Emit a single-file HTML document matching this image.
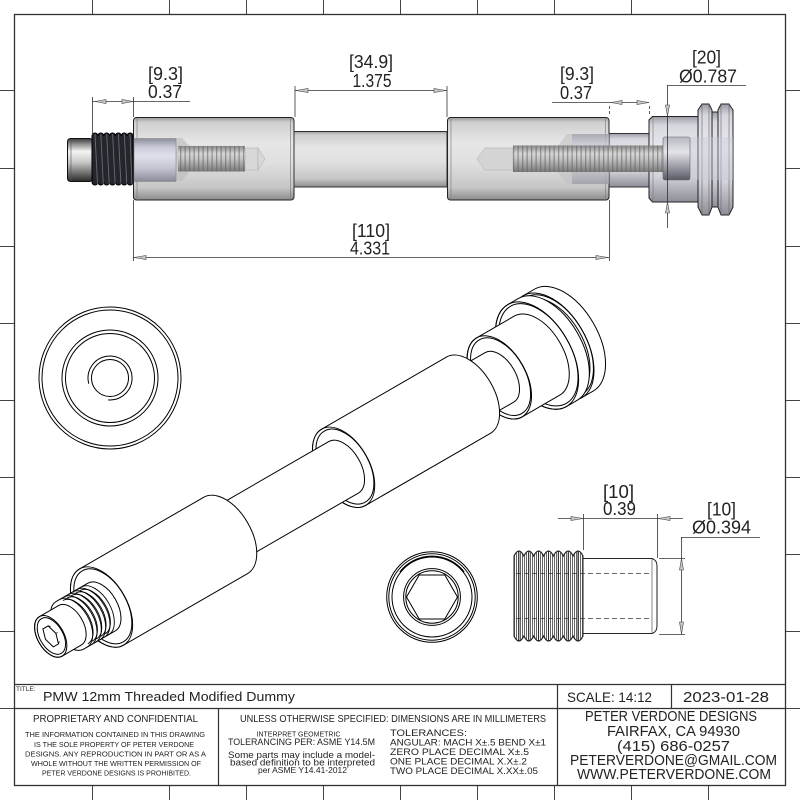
<!DOCTYPE html>
<html><head><meta charset="utf-8"><style>
html,body{margin:0;padding:0;background:#fff;}
svg{display:block;}
text{font-family:"Liberation Sans",sans-serif;fill:#222;}
</style></head><body>
<svg width="800" height="800" viewBox="0 0 800 800" xmlns="http://www.w3.org/2000/svg">
<defs>
<linearGradient id="gBody" x1="0" y1="0" x2="0" y2="1">
<stop offset="0" stop-color="#9a9a9a"/><stop offset="0.06" stop-color="#cfcfcf"/><stop offset="0.3" stop-color="#e6e6e6"/><stop offset="0.55" stop-color="#e0e0e0"/><stop offset="0.85" stop-color="#c6c6c6"/><stop offset="1" stop-color="#8c8c8c"/>
</linearGradient>
<linearGradient id="gHead" x1="0" y1="0" x2="0" y2="1">
<stop offset="0" stop-color="#9b9ca6"/><stop offset="0.1" stop-color="#d6d6de"/><stop offset="0.4" stop-color="#eaeaf0"/><stop offset="0.7" stop-color="#d2d2da"/><stop offset="1" stop-color="#8e8e98"/>
</linearGradient>
<linearGradient id="gNub" x1="0" y1="0" x2="0" y2="1">
<stop offset="0" stop-color="#3a3a3a"/><stop offset="0.12" stop-color="#8a8a8a"/><stop offset="0.3" stop-color="#f4f4f4"/><stop offset="0.55" stop-color="#c8c8c8"/><stop offset="0.8" stop-color="#707070"/><stop offset="1" stop-color="#2a2a2a"/>
</linearGradient>
<linearGradient id="gBore" x1="0" y1="0" x2="0" y2="1">
<stop offset="0" stop-color="#8d8e9c"/><stop offset="0.2" stop-color="#c9cad8"/><stop offset="0.4" stop-color="#e0e0ec"/><stop offset="0.7" stop-color="#c2c3d0"/><stop offset="1" stop-color="#8a8b98"/>
</linearGradient>
<linearGradient id="gBolt" x1="0" y1="0" x2="0" y2="1">
<stop offset="0" stop-color="#8a8a8a"/><stop offset="0.3" stop-color="#d6d6d6"/><stop offset="0.5" stop-color="#c4c4c4"/><stop offset="1" stop-color="#7a7a7a"/>
</linearGradient>
<linearGradient id="gCap" x1="0" y1="0" x2="0" y2="1">
<stop offset="0" stop-color="#b8b8c2"/><stop offset="0.35" stop-color="#e4e4ea"/><stop offset="0.7" stop-color="#9a9aa4"/><stop offset="1" stop-color="#5a5a64"/>
</linearGradient>
<pattern id="pStripe" width="4.5" height="10" patternUnits="userSpaceOnUse">
<rect x="0" y="0" width="1.3" height="10" fill="#5e5e5e" opacity="0.55"/>
</pattern>
<pattern id="pHatch" width="2" height="10" patternUnits="userSpaceOnUse">
<rect x="0" y="0" width="1" height="10" fill="#666"/>
</pattern>
</defs>

<!-- Border -->
<rect x="14.5" y="14.5" width="771" height="771" fill="none" stroke="#333" stroke-width="1.3"/>
<g stroke="#444" stroke-width="1">
<path d="M92.5 0V14M169.5 0V14M246.5 0V14M323.5 0V14M400.5 0V14M477.5 0V14M554.5 0V14M631.5 0V14M708.5 0V14"/>
<path d="M92.5 786V800M169.5 786V800M246.5 786V800M323.5 786V800M400.5 786V800M477.5 786V800M554.5 786V800M631.5 786V800M708.5 786V800"/>
<path d="M0 90.5H14M0 168.5H14M0 246.5H14M0 323.5H14M0 400.5H14M0 477.5H14M0 554.5H14M0 631.5H14M0 708.5H14"/>
<path d="M786 90.5H800M786 168.5H800M786 246.5H800M786 323.5H800M786 400.5H800M786 477.5H800M786 554.5H800M786 631.5H800M786 708.5H800"/>
</g>

<!-- ============ TOP VIEW ============ -->
<rect x="133.5" y="117.5" width="160.5" height="82.5" rx="3" fill="url(#gBody)" stroke="#222"/>
<path d="M137 118V200M290.5 118V200" stroke="#777" stroke-width="0.6"/>
<rect x="294" y="131.5" width="153" height="55.5" fill="url(#gBody)" stroke="#333"/>
<rect x="447.5" y="117.5" width="161.5" height="82.5" rx="3" fill="url(#gBody)" stroke="#222"/>
<path d="M451 118V200M605.5 118V200" stroke="#777" stroke-width="0.6"/>
<rect x="609" y="133.5" width="40" height="53.5" fill="url(#gHead)" stroke="#333"/>
<path d="M652.5 116.5H698V202H652.5L649 198V120Z" fill="url(#gHead)" stroke="#222"/>
<path d="M653 117V201" stroke="#777" stroke-width="0.6"/>
<rect x="712" y="112" width="6" height="95" fill="url(#gHead)" stroke="#222"/>
<path d="M698 110L702 104H709L712 110V207L709 215H702L698 207Z" fill="url(#gHead)" stroke="#222"/>
<path d="M718 110L721 104H729L733 110V207L729 215H721L718 207Z" fill="url(#gHead)" stroke="#222"/>
<path d="M702 104V215M709 104V215M721 104V215M729 104V215" stroke="#666" stroke-width="0.6"/>

<path d="M176 138H182L193 150V167L182 181H176Z" fill="#bdbdbd" opacity="0.65"/>
<rect x="134" y="138.5" width="42" height="43" fill="url(#gBore)" stroke="#888" stroke-width="0.6"/>
<rect x="245" y="148" width="13" height="22" fill="#d8d8d8" stroke="#aaa" stroke-width="0.5"/>
<path d="M258 148L265 159L258 170Z" fill="#d8d8d8" stroke="#aaa" stroke-width="0.5"/>
<rect x="178" y="146" width="67" height="25.5" fill="url(#gBolt)"/>
<rect x="178" y="146" width="67" height="25.5" fill="url(#pStripe)"/>

<path d="M477 159L485 148H513V170H485Z" fill="#d4d4d4" stroke="#aaa" stroke-width="0.5"/>
<path d="M553 152L567 134H609V184H567L553 166Z" fill="#c2c2c2" opacity="0.6"/>
<rect x="572" y="134" width="37" height="50" fill="url(#gBore)" opacity="0.55"/>
<rect x="690" y="137" width="43" height="43" fill="#c8c8d8" opacity="0.4"/>
<rect x="663" y="137" width="27" height="43" rx="2" fill="url(#gCap)" stroke="#666" stroke-width="0.6"/>
<rect x="513" y="145.5" width="150" height="26.5" fill="url(#gBolt)"/>
<rect x="513" y="145.5" width="150" height="26.5" fill="url(#pStripe)"/>

<rect x="67.5" y="138.5" width="25" height="43" rx="3" fill="url(#gNub)" stroke="#111"/>
<path d="M71 139V181" stroke="#555" stroke-width="0.6"/>
<path d="M92 136a2.93 3 0 0 1 5.86 0a2.93 3 0 0 1 5.86 0a2.93 3 0 0 1 5.86 0a2.93 3 0 0 1 5.86 0a2.93 3 0 0 1 5.86 0a2.93 3 0 0 1 5.86 0a2.93 3 0 0 1 5.86 0V182a2.93 3 0 0 1 -5.86 0a2.93 3 0 0 1 -5.86 0a2.93 3 0 0 1 -5.86 0a2.93 3 0 0 1 -5.86 0a2.93 3 0 0 1 -5.86 0a2.93 3 0 0 1 -5.86 0a2.93 3 0 0 1 -5.86 0Z" fill="#25252c" stroke="#000"/>
<path d="M95 134L97.5 184M100.8 134L103.3 184M106.7 134L109.2 184M112.6 134L115.1 184M118.4 134L120.9 184M124.3 134L126.8 184M130 134L132 184" stroke="#6a6a78" stroke-width="0.9"/>

<g stroke="#333" stroke-width="0.8" fill="none">
<path d="M92.5 97V135M133.5 97V117M92 101.5H190"/>
<path d="M295 86V117M447 86V117M295 90.5H447"/>
<path d="M133.5 200V261M609.5 200V261M133 257.5H609"/>
<path d="M552 102.5H649"/>
<path d="M609.5 106V114M649.5 106V114" stroke-dasharray="3,2"/>
<path d="M667 85.5H746M667.5 85V228"/>
</g>
<g fill="#c8c8c8" stroke="#444" stroke-width="0.6">
<path d="M95 101.5L106 99.5V103.5Z"/><path d="M133 101.5L122 99.5V103.5Z"/>
<path d="M296 90.5L308 88.5V92.5Z"/><path d="M446 90.5L434 88.5V92.5Z"/>
<path d="M134 257.5L146 255.5V259.5Z"/><path d="M608 257.5L596 255.5V259.5Z"/>
<path d="M611 102.5L622 100.5V104.5Z"/><path d="M649 102.5L637 100.5V104.5Z"/>
<path d="M667.5 116L665.5 105H669.5Z"/><path d="M667.5 202L665.5 213H669.5Z"/>
</g>
<g font-size="18">
<text x="165.5" y="80" text-anchor="middle" textLength="35" lengthAdjust="spacingAndGlyphs">[9.3]</text>
<text x="165" y="98" text-anchor="middle" textLength="34" lengthAdjust="spacingAndGlyphs">0.37</text>
<text x="371" y="68" text-anchor="middle" textLength="44" lengthAdjust="spacingAndGlyphs">[34.9]</text>
<text x="372" y="87" text-anchor="middle" textLength="39" lengthAdjust="spacingAndGlyphs">1.375</text>
<text x="371" y="237" text-anchor="middle" textLength="38" lengthAdjust="spacingAndGlyphs">[110]</text>
<text x="370" y="254.5" text-anchor="middle" textLength="40" lengthAdjust="spacingAndGlyphs">4.331</text>
<text x="577" y="80" text-anchor="middle" textLength="34" lengthAdjust="spacingAndGlyphs">[9.3]</text>
<text x="576" y="99" text-anchor="middle" textLength="32" lengthAdjust="spacingAndGlyphs">0.37</text>
<text x="706.5" y="63.5" text-anchor="middle" textLength="29" lengthAdjust="spacingAndGlyphs">[20]</text>
<text x="708" y="82.5" text-anchor="middle" textLength="58" lengthAdjust="spacingAndGlyphs">Ø0.787</text>
</g>

<!-- ============ LEFT END VIEW ============ -->
<g fill="none" stroke="#000" stroke-width="1">
<circle cx="110" cy="378" r="71"/>
<circle cx="110" cy="378" r="68"/>
<circle cx="110" cy="378" r="48"/>
<circle cx="110" cy="378" r="44.5"/>
<circle cx="110" cy="378" r="18.5"/>
<path d="M88.8 383.7A22 22 0 1 1 108.1 399.9"/>
</g>

<!-- ============ ISO VIEW ============ -->
<g transform="translate(50.7,636.4) rotate(-30)" fill="#fff" stroke="#000" stroke-width="1">
<path d="M579.4 -58.8L592.7 -58.8A33.9 58.8 0 0 1 592.7 58.8L579.4 58.8A33.9 58.8 0 0 1 579.4 -58.8Z"/>
<ellipse cx="579.4" cy="0" rx="33.9" ry="58.8" fill="none"/>
<ellipse cx="581" cy="0" rx="32.3" ry="56" fill="none"/>
<path d="M574 -53L579.4 -53A30.6 53 0 0 1 579.4 53L574 53A30.6 53 0 0 1 574 -53Z"/>
<ellipse cx="574" cy="0" rx="30.6" ry="53" fill="none"/>
<path d="M561.6 -58.8L574 -58.8A33.9 58.8 0 0 1 574 58.8L561.6 58.8A33.9 58.8 0 0 1 561.6 -58.8Z"/>
<ellipse cx="561.6" cy="0" rx="33.9" ry="58.8" fill="none"/>
<ellipse cx="563.2" cy="0" rx="32.3" ry="56" fill="none"/>
<path d="M518 -45.6L561.6 -45.6A26.3 45.6 0 0 1 561.6 45.6L518 45.6A26.3 45.6 0 0 1 518 -45.6Z"/>
<ellipse cx="518" cy="0" rx="26.3" ry="45.6" fill="none"/>
<ellipse cx="519.5" cy="0" rx="24.5" ry="42.5" fill="none"/>
<path d="M482.4 -28.6L518 -28.6A16.5 28.6 0 0 1 518 28.6L482.4 28.6A16.5 28.6 0 0 1 482.4 -28.6Z"/>
<path d="M338.2 -44L482.4 -44A25.4 44 0 0 1 482.4 44L338.2 44A25.4 44 0 0 1 338.2 -44Z"/>
<ellipse cx="338.2" cy="0" rx="25.4" ry="44" fill="none"/>
<ellipse cx="339.7" cy="0" rx="23.7" ry="41" fill="none"/>
<path d="M202 -29.7L338.2 -29.7A17.1 29.7 0 0 1 338.2 29.7L202 29.7A17.1 29.7 0 0 1 202 -29.7Z"/>
<path d="M58.7 -44L202 -44A25.4 44 0 0 1 202 44L58.7 44A25.4 44 0 0 1 58.7 -44Z"/>
<ellipse cx="58.7" cy="0" rx="25.4" ry="44" fill="none"/>
<ellipse cx="60.2" cy="0" rx="23.7" ry="41" fill="none"/>
<path d="M22.3 -27.5L58.7 -27.5A15.9 27.5 0 0 1 58.7 27.5L22.3 27.5A15.9 27.5 0 0 1 22.3 -27.5Z"/>
<g fill="none" stroke-width="0.9">
<path d="M26 -27.5A15.9 27.5 0 0 1 26 27.5"/>
<path d="M31 -27.5A15.9 27.5 0 0 1 31 27.5"/>
<path d="M36 -27.5A15.9 27.5 0 0 1 36 27.5"/>
<path d="M41 -27.5A15.9 27.5 0 0 1 41 27.5"/>
<path d="M46 -27.5A15.9 27.5 0 0 1 46 27.5"/>
<path d="M51 -27.5A15.9 27.5 0 0 1 51 27.5"/>
<path d="M28.5 -25A14.5 25 0 0 1 28.5 25"/>
<path d="M33.5 -25A14.5 25 0 0 1 33.5 25"/>
<path d="M38.5 -25A14.5 25 0 0 1 38.5 25"/>
<path d="M43.5 -25A14.5 25 0 0 1 43.5 25"/>
<path d="M48.5 -25A14.5 25 0 0 1 48.5 25"/>
</g>
<path d="M0 -22.8L22.3 -22.8A13.2 22.8 0 0 1 22.3 22.8L0 22.8A13.2 22.8 0 0 1 0 -22.8Z"/>
<ellipse cx="0" cy="0" rx="13.2" ry="22.8" fill="none"/>
<ellipse cx="0.8" cy="0" rx="11.6" ry="20" fill="none"/>
<path d="M6 0L3 10.4L-3 10.4L-6 0L-3 -10.4L3 -10.4Z" fill="none"/>
<path d="M3 10.4L5 8.6M6 0L8 0M3 -10.4L5 -8.6" fill="none" stroke-width="0.7"/>
</g>

<!-- ============ BOTTOM END VIEW ============ -->
<g fill="none" stroke="#000" stroke-width="1">
<circle cx="432" cy="597" r="45.3"/>
<circle cx="432" cy="597" r="43.2"/>
<circle cx="432" cy="597" r="40"/>
<path d="M400 572A40.5 40.5 0 0 1 464 572" stroke-width="1.5"/>
<circle cx="432" cy="597" r="28.4"/>
<circle cx="432" cy="597" r="26.2"/>
<path d="M457.5 597L444.8 575L419.2 575L406.5 597L419.2 619L444.8 619Z"/>
</g>

<!-- ============ PLUG SIDE VIEW ============ -->
<path d="M514 556Q518.9 546 523.9 556Q528.8 546 533.7 556Q538.6 546 543.6 556Q548.5 546 553.4 556Q558.3 546 563.3 556Q568.2 546 573.1 556Q578 546 583 556V636Q578 646 573.1 636Q568.2 646 563.3 636Q558.3 646 553.4 636Q548.5 646 543.6 636Q538.6 646 533.7 636Q528.8 646 523.9 636Q518.9 646 514 636Z" fill="#fff" stroke="#222"/>
<path d="M514 556Q518.9 546 523.9 556Q528.8 546 533.7 556Q538.6 546 543.6 556Q548.5 546 553.4 556Q558.3 546 563.3 556Q568.2 546 573.1 556Q578 546 583 556V636Q578 646 573.1 636Q568.2 646 563.3 636Q558.3 646 553.4 636Q548.5 646 543.6 636Q538.6 646 533.7 636Q528.8 646 523.9 636Q518.9 646 514 636Z" fill="url(#pHatch)" stroke="#222"/>
<path d="M518.9 551V641M528.8 551V641M538.6 551V641M548.5 551V641M558.3 551V641M568.2 551V641M578 551V641" stroke="#222" stroke-width="0.9"/>
<path d="M583 558.5H652Q657 560 657 566V626Q657 632 652 633.5H583Z" fill="#fff" stroke="#222"/>
<path d="M652 559V633" stroke="#555" stroke-width="0.7"/>
<path d="M516 573.5H652M516 618.5H652" stroke="#333" stroke-width="0.8" stroke-dasharray="5,3" fill="none"/>

<g stroke="#333" stroke-width="0.8" fill="none">
<path d="M558 518.5H683M583.5 514V550M657.5 514V558"/>
<path d="M681 537.5H760M681.5 537V634M659 558.5H685M659 634.5H685"/>
</g>
<g fill="#c8c8c8" stroke="#444" stroke-width="0.6">
<path d="M583 518.5L571 516.5V520.5Z"/><path d="M658 518.5L670 516.5V520.5Z"/>
<path d="M681.5 558.5L679.5 570H683.5Z"/><path d="M681.5 634L679.5 622H683.5Z"/>
</g>
<g font-size="18">
<text x="618.5" y="498" text-anchor="middle" textLength="31" lengthAdjust="spacingAndGlyphs">[10]</text>
<text x="619.5" y="515" text-anchor="middle" textLength="33" lengthAdjust="spacingAndGlyphs">0.39</text>
<text x="721.5" y="515.5" text-anchor="middle" textLength="29" lengthAdjust="spacingAndGlyphs">[10]</text>
<text x="721.5" y="533.5" text-anchor="middle" textLength="59" lengthAdjust="spacingAndGlyphs">Ø0.394</text>
</g>

<!-- ============ TITLE BLOCK ============ -->
<g stroke="#333" stroke-width="1.2" fill="none">
<path d="M14 684.5H786M14 708.5H786M557.5 684V786M671.5 684V708M218.5 708V786"/>
</g>
<text x="16" y="691" font-size="6.5">TITLE:</text>
<text x="43" y="701" font-size="13" textLength="252" lengthAdjust="spacingAndGlyphs">PMW 12mm Threaded Modified Dummy</text>
<text x="567" y="702" font-size="14" textLength="85" lengthAdjust="spacingAndGlyphs">SCALE: 14:12</text>
<text x="683" y="702" font-size="15" textLength="86" lengthAdjust="spacingAndGlyphs">2023-01-28</text>

<g text-anchor="middle">
<text x="115.5" y="722" font-size="10" textLength="165" lengthAdjust="spacingAndGlyphs">PROPRIETARY AND CONFIDENTIAL</text>
<text x="115" y="737" font-size="7" textLength="180" lengthAdjust="spacingAndGlyphs">THE INFORMATION CONTAINED IN THIS DRAWING</text>
<text x="114" y="747" font-size="7" textLength="160" lengthAdjust="spacingAndGlyphs">IS THE SOLE PROPERTY OF PETER VERDONE</text>
<text x="115.5" y="756.5" font-size="7" textLength="181" lengthAdjust="spacingAndGlyphs">DESIGNS.  ANY  REPRODUCTION IN PART OR AS A</text>
<text x="116" y="766" font-size="7" textLength="170" lengthAdjust="spacingAndGlyphs">WHOLE WITHOUT THE WRITTEN PERMISSION OF</text>
<text x="116.5" y="775.5" font-size="7" textLength="149" lengthAdjust="spacingAndGlyphs">PETER VERDONE DESIGNS IS PROHIBITED.</text>

<text x="393" y="722" font-size="10" textLength="306" lengthAdjust="spacingAndGlyphs">UNLESS OTHERWISE SPECIFIED: DIMENSIONS ARE IN MILLIMETERS</text>
<text x="298.5" y="736.5" font-size="7.5" textLength="84" lengthAdjust="spacingAndGlyphs">INTERPRET GEOMETRIC</text>
<text x="301.5" y="745" font-size="9" textLength="147" lengthAdjust="spacingAndGlyphs">TOLERANCING PER: ASME Y14.5M</text>
<text x="301.5" y="758" font-size="9.5" textLength="147" lengthAdjust="spacingAndGlyphs">Some parts may include a model-</text>
<text x="302.5" y="765.5" font-size="9.5" textLength="145" lengthAdjust="spacingAndGlyphs">based definition to be interpreted</text>
<text x="302.5" y="773" font-size="8.5" textLength="89" lengthAdjust="spacingAndGlyphs">per ASME Y14.41-2012</text>

<text x="671" y="721" font-size="15" textLength="172" lengthAdjust="spacingAndGlyphs">PETER VERDONE DESIGNS</text>
<text x="673.5" y="736" font-size="15" textLength="133" lengthAdjust="spacingAndGlyphs">FAIRFAX, CA 94930</text>
<text x="673.5" y="751" font-size="15" textLength="113" lengthAdjust="spacingAndGlyphs">(415) 686-0257</text>
<text x="673.5" y="765" font-size="15" textLength="207" lengthAdjust="spacingAndGlyphs">PETERVERDONE@GMAIL.COM</text>
<text x="674" y="779" font-size="15" textLength="194" lengthAdjust="spacingAndGlyphs">WWW.PETERVERDONE.COM</text>
</g>
<g font-size="9.5">
<text x="390" y="736" textLength="77" lengthAdjust="spacingAndGlyphs">TOLERANCES:</text>
<text x="390" y="745.5" textLength="156" lengthAdjust="spacingAndGlyphs">ANGULAR: MACH X±.5   BEND X±1</text>
<text x="390" y="755" textLength="139" lengthAdjust="spacingAndGlyphs">ZERO PLACE DECIMAL  X±.5</text>
<text x="390" y="764.5" textLength="137" lengthAdjust="spacingAndGlyphs">ONE PLACE DECIMAL   X.X±.2</text>
<text x="390" y="774" textLength="148" lengthAdjust="spacingAndGlyphs">TWO PLACE DECIMAL   X.XX±.05</text>
</g>
</svg>
</body></html>
